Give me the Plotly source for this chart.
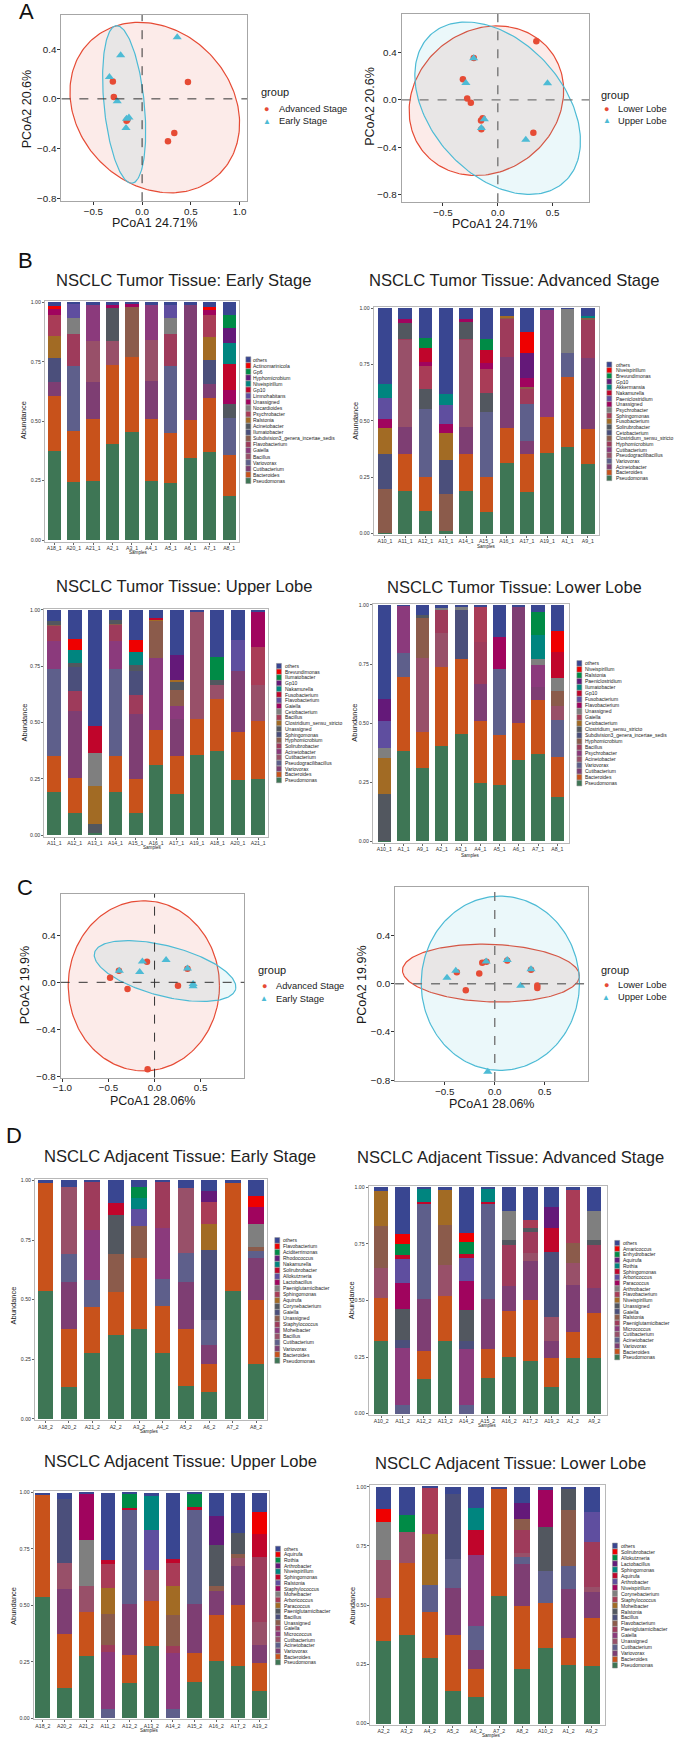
import numpy as np
import plotly.graph_objects as go

W, H = 675, 1744
FONT = "Arial"

palette = ["#3e7655", "#c8521b", "#7e3e73", "#5e5f8b", "#985069", "#8b3a7c", "#9e3b5b",
           "#8b5b4b", "#4b4f7b", "#52575f", "#a26b24", "#a93c57", "#7f7f7f", "#a0045e",
           "#5f4e9f", "#c0052b", "#00857f", "#641979", "#008b46", "#ef0000", "#394691"]
RED, BLUE = "#E64B35", "#4DBBD5"

# ---------------- PCoA data ----------------
tumor_stage_adv_x = [-0.30, -0.29, 0.47, 0.33, 0.265, -0.16, -0.15]
tumor_stage_adv_y = [0.14, 0.015, 0.135, -0.275, -0.34, -0.175, -0.165]
tumor_stage_early_x = [0.36, -0.22, -0.335, -0.255, -0.16, -0.135, -0.165]
tumor_stage_early_y = [0.495, 0.35, 0.175, -0.02, -0.16, -0.15, -0.235]

tumor_lobe_lower_x = [0.351, -0.219, -0.318, -0.279, -0.246, -0.153, -0.138, -0.15, 0.324]
tumor_lobe_lower_y = [0.494, 0.352, 0.173, 0.011, -0.025, -0.173, -0.154, -0.246, -0.277]
tumor_lobe_upper_x = [-0.22, -0.291, -0.123, -0.15, 0.453, 0.255]
tumor_lobe_upper_y = [0.35, 0.142, -0.162, -0.237, 0.14, -0.335]

adj_stage_adv_x = [-0.482, -0.293, -0.082, 0.254, -0.075, -0.386, 0.357]
adj_stage_adv_y = [0.039, -0.056, 0.175, -0.028, -0.738, 0.099, 0.115]
adj_stage_early_x = [-0.382, -0.161, -0.132, 0.125, 0.357, 0.418, 0.418]
adj_stage_early_y = [0.099, 0.087, 0.177, 0.19, 0.118, -0.014, -0.034]

adj_lobe_lower_x = [-0.38, -0.29, -0.155, -0.125, -0.083, 0.125, 0.363, 0.426, 0.426]
adj_lobe_lower_y = [0.096, -0.055, 0.085, 0.174, 0.182, 0.193, 0.116, -0.014, -0.036]
adj_lobe_upper_x = [-0.478, -0.39, -0.086, 0.125, 0.363, 0.26, -0.07]
adj_lobe_upper_y = [0.05, 0.107, 0.185, 0.196, 0.12, -0.017, -0.73]

# ellipse parameters: (cx, cy, a, b, angle_deg)
ell_A1_red = (0.13, -0.07, 0.891, 0.658, -18.8)
ell_A1_blue = (-0.184, -0.045, 0.639, 0.206, -82.4)
ell_A2_red = (-0.104, -0.007, 0.724, 0.607, 25.2)
ell_A2_blue = (-0.0015, -0.07, 0.871, 0.581, -42.1)
ell_C1_red = (-0.116, -0.03, 0.82, 0.722, 0.0)
ell_C1_blue = (0.114, 0.096, 0.781, 0.216, -10.9)
ell_C2_red = (-0.038, 0.088, 0.886, 0.239, -1.6)
ell_C2_blue = (0.056, 0.004, 0.792, 0.723, 0.0)

# ---------------- Abundance data ----------------
tumor_profiles = {
    "A1_1": {"Pseudomonas": .383, "Bacteroides": .312, "Variovorax": .104, "Psychrobacter": .199},
    "A2_1": {"Pseudomonas": .403, "Bacteroides": .335, "Acinetobacter": .142, "Bacillus": .097, "Unassigned": .016},
    "A3_1": {"Pseudomonas": .456, "Bacteroides": .315, "Subdivision3_genera_incertae_sedis": .212, "Unassigned": .008},
    "A4_1": {"Pseudomonas": .247, "Bacteroides": .263, "Cutibacterium": .157, "Bacillus": .175, "Gaiella": .148},
    "A5_1": {"Pseudomonas": .239, "Bacteroides": .212, "Variovorax": .279, "Flavobacterium": .135, "Nocardioides": .067, "Limnohabitans": .061},
    "A6_1": {"Pseudomonas": .345, "Bacteroides": .158, "Cutibacterium": .487},
    "A7_1": {"Pseudomonas": .37, "Bacteroides": .229, "Cutibacterium": .056, "Ilumatobacter": .104, "Ralstonia": .094, "Psychrobacter": .092, "Unassigned": .024, "Actinomarinicola": .010},
    "A8_1": {"Pseudomonas": .187, "Bacteroides": .169, "Variovorax": .156, "Acinetobacter": .062, "Hyphomicrobium": .063, "Unassigned": .055, "Gp10": .11, "Niveispirillum": .09, "Gp6": .053},
    "A9_1": {"Pseudomonas": .309, "Bacteroides": .154, "Acinetobacter": .314, "Hyphomicrobium": .17, "Clostridium_sensu_stricto": .012, "Akkermansia": .004},
    "A10_1": {"Pseudomonas": .004, "Clostridium_sensu_stricto": .195, "Cetobacterium": .155, "Fusobacterium": .116, "Unassigned": .04, "Paeniclostridium": .093, "Akkermansia": .059},
    "A11_1": {"Pseudomonas": .19, "Bacteroides": .161, "Acinetobacter": .12, "Pseudogracilibacillus": .389, "Solirubrobacter": .072, "Unassigned": .017, "Hyphomicrobium": .003},
    "A12_1": {"Pseudomonas": .10, "Bacteroides": .152, "Variovorax": .30, "Solirubrobacter": .09, "Sphingomonas": .103, "Unassigned": .018, "Nakamurella": .058, "Brevundimonas": .048},
    "A13_1": {"Pseudomonas": .009, "Clostridium_sensu_stricto": .168, "Cetobacterium": .15, "Fusobacterium": .118, "Unassigned": .04, "Paeniclostridium": .084, "Akkermansia": .052},
    "A14_1": {"Pseudomonas": .19, "Bacteroides": .161, "Acinetobacter": .122, "Pseudogracilibacillus": .388, "Solirubrobacter": .074, "Unassigned": .015, "Hyphomicrobium": .003},
    "A15_1": {"Pseudomonas": .097, "Bacteroides": .152, "Variovorax": .29, "Solirubrobacter": .085, "Sphingomonas": .106, "Unassigned": .025, "Nakamurella": .06, "Brevundimonas": .05},
    "A16_1": {"Pseudomonas": .314, "Bacteroides": .155, "Acinetobacter": .316, "Hyphomicrobium": .17, "Clostridium_sensu_stricto": .005, "Fusobacterium": .005},
    "A17_1": {"Pseudomonas": .184, "Bacteroides": .167, "Acinetobacter": .059, "Variovorax": .164, "Hyphomicrobium": .07, "Clostridium_sensu_stricto": .006, "Unassigned": .039, "Gp10": .11, "Niveispirillum": .094},
    "A18_1": {"Pseudomonas": .374, "Bacteroides": .232, "Cutibacterium": .059, "Ilumatobacter": .102, "Ralstonia": .092, "Psychrobacter": .089, "Unassigned": .025, "Actinomarinicola": .010},
    "A19_1": {"Pseudomonas": .355, "Bacteroides": .16, "Cutibacterium": .475},
    "A20_1": {"Pseudomonas": .246, "Bacteroides": .212, "Variovorax": .272, "Flavobacterium": .136, "Nocardioides": .067, "Limnohabitans": .063},
    "A21_1": {"Pseudomonas": .249, "Bacteroides": .26, "Cutibacterium": .157, "Bacillus": .171, "Gaiella": .153},
}

adjacent_profiles = {
    "A1_2": {"Pseudomonas": .246, "Bacteroides": .114, "Variovorax": .208, "Cutibacterium": .097, "Ralstonia": .09, "Flavobacterium": .235},
    "A2_2": {"Pseudomonas": .35, "Bacteroides": .181, "Unassigned": .159, "Corynebacterium": .163, "Solirubrobacter": .054},
    "A3_2": {"Pseudomonas": .375, "Bacteroides": .301, "Unassigned": .134, "Allokutzneria": .07, "Nakamurella": .047, "Aciditerrimonas": .045},
    "A4_2": {"Pseudomonas": .275, "Bacteroides": .198, "Cutibacterium": .112, "Moheibacter": .215, "Staphylococcus": .196},
    "A5_2": {"Pseudomonas": .137, "Bacteroides": .238, "Variovorax": .197, "Cutibacterium": .123, "Bacillus": .273},
    "A6_2": {"Pseudomonas": .113, "Bacteroides": .117, "Variovorax": .08, "Cutibacterium": .104, "Gaiella": .296, "Aquirufa": .108, "Sphingomonas": .093, "Rhodococcus": .043},
    "A7_2": {"Pseudomonas": .537, "Bacteroides": .453},
    "A8_2": {"Pseudomonas": .23, "Bacteroides": .268, "Variovorax": .177, "Cutibacterium": .029, "Unassigned": .018, "Paeniglutamicibacter": .097, "Lactobacillus": .07, "Flavobacterium": .044},
    "A9_2": {"Pseudomonas": .245, "Bacteroides": .2, "Variovorax": .11, "Paeniglutamicibacter": .189, "Unassigned": .023, "Arthrobacter": .127},
    "A10_2": {"Pseudomonas": .32, "Bacteroides": .19, "Cutibacterium": .135, "Ralstonia": .183, "Niveispirillum": .157},
    "A11_2": {"Acinetobacter": .04, "Micrococcus": .252, "Gaiella": .034, "Unassigned": .136, "Paracoccus": .115, "Arboricoccus": .107, "Sphingomonas": .018, "Enhydrobacter": .049, "Amaricoccus": .044},
    "A12_2": {"Pseudomonas": .155, "Bacteroides": .123, "Variovorax": .229, "Acinetobacter": .418, "Sphingomonas": .009, "Rothia": .063},
    "A13_2": {"Pseudomonas": .32, "Bacteroides": .198, "Cutibacterium": .14, "Ralstonia": .177, "Niveispirillum": .152},
    "A14_2": {"Acinetobacter": .04, "Micrococcus": .247, "Gaiella": .033, "Unassigned": .137, "Paracoccus": .128, "Arboricoccus": .102, "Sphingomonas": .018, "Enhydrobacter": .053, "Amaricoccus": .039},
    "A15_2": {"Pseudomonas": .158, "Bacteroides": .129, "Variovorax": .22, "Acinetobacter": .418, "Sphingomonas": .012, "Rothia": .058},
    "A16_2": {"Pseudomonas": .252, "Bacteroides": .203, "Variovorax": .11, "Paeniglutamicibacter": .18, "Unassigned": .023, "Arthrobacter": .127},
    "A17_2": {"Pseudomonas": .233, "Bacteroides": .267, "Variovorax": .173, "Cutibacterium": .036, "Unassigned": .018, "Paeniglutamicibacter": .093, "Flavobacterium": .035},
    "A18_2": {"Pseudomonas": .537, "Bacteroides": .453},
    "A19_2": {"Pseudomonas": .118, "Bacteroides": .127, "Variovorax": .077, "Cutibacterium": .106, "Gaiella": .287, "Sphingomonas": .103, "Aquirufa": .095},
    "A20_2": {"Pseudomonas": .135, "Bacteroides": .24, "Variovorax": .197, "Cutibacterium": .118, "Bacillus": .282},
    "A21_2": {"Pseudomonas": .275, "Bacteroides": .195, "Cutibacterium": .114, "Moheibacter": .207, "Staphylococcus": .205},
}

B1_samples = ["A18_1", "A20_1", "A21_1", "A2_1", "A3_1", "A4_1", "A5_1", "A6_1", "A7_1", "A8_1"]
B2_samples = ["A10_1", "A11_1", "A12_1", "A13_1", "A14_1", "A15_1", "A16_1", "A17_1", "A19_1", "A1_1", "A9_1"]
B3_samples = ["A11_1", "A12_1", "A13_1", "A14_1", "A15_1", "A16_1", "A17_1", "A19_1", "A18_1", "A20_1", "A21_1"]
B4_samples = ["A10_1", "A1_1", "A9_1", "A2_1", "A3_1", "A4_1", "A5_1", "A6_1", "A7_1", "A8_1"]
D1_samples = ["A18_2", "A20_2", "A21_2", "A2_2", "A3_2", "A4_2", "A5_2", "A6_2", "A7_2", "A8_2"]
D2_samples = ["A10_2", "A11_2", "A12_2", "A13_2", "A14_2", "A15_2", "A16_2", "A17_2", "A19_2", "A1_2", "A9_2"]
D3_samples = ["A18_2", "A20_2", "A21_2", "A11_2", "A12_2", "A13_2", "A14_2", "A15_2", "A16_2", "A17_2", "A19_2"]
D4_samples = ["A2_2", "A3_2", "A4_2", "A5_2", "A6_2", "A7_2", "A8_2", "A10_2", "A1_2", "A9_2"]

B1_taxa = ["Pseudomonas", "Bacteroides", "Cutibacterium", "Variovorax", "Bacillus", "Gaiella", "Flavobacterium",
           "Subdivision3_genera_incertae_sedis", "Ilumatobacter", "Acinetobacter", "Ralstonia", "Psychrobacter",
           "Nocardioides", "Unassigned", "Limnohabitans", "Gp10", "Niveispirillum", "Hyphomicrobium", "Gp6",
           "Actinomarinicola"]
B2_taxa = ["Pseudomonas", "Bacteroides", "Acinetobacter", "Variovorax", "Pseudogracilibacillus", "Cutibacterium",
           "Hyphomicrobium", "Clostridium_sensu_stricto", "Cetobacterium", "Solirubrobacter", "Fusobacterium",
           "Sphingomonas", "Psychrobacter", "Unassigned", "Paeniclostridium", "Nakamurella", "Akkermansia", "Gp10",
           "Brevundimonas", "Niveispirillum"]
B3_taxa = ["Pseudomonas", "Bacteroides", "Variovorax", "Pseudogracilibacillus", "Cutibacterium", "Acinetobacter",
           "Solirubrobacter", "Hyphomicrobium", "Sphingomonas", "Unassigned", "Clostridium_sensu_stricto", "Bacillus",
           "Cetobacterium", "Gaiella", "Flavobacterium", "Fusobacterium", "Nakamurella", "Gp10", "Ilumatobacter",
           "Brevundimonas"]
B4_taxa = ["Pseudomonas", "Bacteroides", "Cutibacterium", "Variovorax", "Acinetobacter", "Psychrobacter", "Bacillus",
           "Hyphomicrobium", "Subdivision3_genera_incertae_sedis", "Clostridium_sensu_stricto", "Cetobacterium",
           "Gaiella", "Unassigned", "Flavobacterium", "Fusobacterium", "Gp10", "Ilumatobacter", "Paeniclostridium",
           "Ralstonia", "Niveispirillum"]
D1_taxa = ["Pseudomonas", "Bacteroides", "Variovorax", "Cutibacterium", "Bacillus", "Moheibacter", "Staphylococcus",
           "Unassigned", "Gaiella", "Corynebacterium", "Aquirufa", "Sphingomonas", "Paeniglutamicibacter",
           "Lactobacillus", "Allokutzneria", "Solirubrobacter", "Nakamurella", "Rhodococcus", "Aciditerrimonas",
           "Flavobacterium"]
D2_taxa = ["Pseudomonas", "Bacteroides", "Variovorax", "Acinetobacter", "Cutibacterium", "Micrococcus",
           "Paeniglutamicibacter", "Ralstonia", "Gaiella", "Unassigned", "Niveispirillum", "Flavobacterium",
           "Arthrobacter", "Paracoccus", "Arboricoccus", "Sphingomonas", "Rothia", "Aquirufa", "Enhydrobacter",
           "Amaricoccus"]
D3_taxa = ["Pseudomonas", "Bacteroides", "Variovorax", "Acinetobacter", "Cutibacterium", "Micrococcus", "Gaiella",
           "Unassigned", "Bacillus", "Paeniglutamicibacter", "Paracoccus", "Arboricoccus", "Moheibacter",
           "Staphylococcus", "Ralstonia", "Sphingomonas", "Niveispirillum", "Arthrobacter", "Rothia", "Aquirufa"]
D4_taxa = ["Pseudomonas", "Bacteroides", "Variovorax", "Cutibacterium", "Unassigned", "Gaiella",
           "Paeniglutamicibacter", "Flavobacterium", "Bacillus", "Ralstonia", "Moheibacter", "Staphylococcus",
           "Corynebacterium", "Niveispirillum", "Arthrobacter", "Aquirufa", "Sphingomonas", "Lactobacillus",
           "Allokutzneria", "Solirubrobacter"]

# ---------------- helpers ----------------
fig = go.Figure()
shapes, annotations = [], []
axis_n = [0]


def px(x):
    return x / W


def py(y):
    return 1 - y / H


def new_axes(box, xr, yr, xcfg, ycfg):
    axis_n[0] += 1
    i = axis_n[0]
    xa = "xaxis" if i == 1 else f"xaxis{i}"
    ya = "yaxis" if i == 1 else f"yaxis{i}"
    xs = "x" if i == 1 else f"x{i}"
    ys = "y" if i == 1 else f"y{i}"
    x0, y0, x1, y1 = box
    xd = dict(domain=[px(x0), px(x1)], range=xr, anchor=ys, showgrid=False, zeroline=False,
              showline=True, mirror=True, fixedrange=True)
    yd = dict(domain=[py(y1), py(y0)], range=yr, anchor=xs, showgrid=False, zeroline=False,
              showline=True, mirror=True, fixedrange=True)
    xd.update(xcfg)
    yd.update(ycfg)
    fig.layout[xa] = xd
    fig.layout[ya] = yd
    return xs, ys


def text(t, x, y, size, color="#1a1a1a", xanchor="center", yanchor="middle", angle=0, family=FONT):
    annotations.append(dict(text=t, x=px(x), y=py(y), xref="paper", yref="paper", showarrow=False,
                            xanchor=xanchor, yanchor=yanchor, textangle=angle, borderpad=0,
                            font=dict(size=size, color=color, family=family)))


def ellipse(params, n=200):
    cx, cy, a, b, ang = params
    t = np.linspace(0, 2 * np.pi, n)
    th = np.deg2rad(ang)
    x = cx + a * np.cos(th) * np.cos(t) - b * np.sin(th) * np.sin(t)
    y = cy + a * np.sin(th) * np.cos(t) + b * np.cos(th) * np.sin(t)
    return x, y


def pcoa_panel(box, xr, yr, xticks, yticks, ell_red, ell_blue, rx, ry, bx, by,
               xtitle, ytitle, xt_pos, yt_pos, leg_pos, labels, dash_col, dash_w):
    tickstyle = dict(ticks="outside", ticklen=3, tickcolor="#333", tickwidth=1,
                     linecolor="#a6a6a6", linewidth=1,
                     tickfont=dict(size=9.8, color="#222", family=FONT))
    xcfg = dict(tickvals=xticks, ticktext=[f"{v:.1f}".replace("-", "\u2212") for v in xticks],
                ticklabelstandoff=-2, **tickstyle)
    ycfg = dict(tickvals=yticks, ticktext=[f"{v:.1f}".replace("-", "\u2212") for v in yticks],
                ticklabelstandoff=-1, **tickstyle)
    xs, ys = new_axes(box, xr, yr, xcfg, ycfg)
    for par, col, rgba in [(ell_red, RED, "rgba(230,75,53,0.11)"), (ell_blue, BLUE, "rgba(77,187,213,0.11)")]:
        ex, ey = ellipse(par)
        fig.add_trace(go.Scatter(x=ex, y=ey, mode="lines", fill="toself", fillcolor=rgba,
                                 line=dict(color=col, width=1.2), xaxis=xs, yaxis=ys,
                                 showlegend=False, hoverinfo="skip"))
    # dashed zero lines
    shapes.append(dict(type="line", xref=xs, yref=ys, x0=0, x1=0, y0=yr[0], y1=yr[1],
                       line=dict(color=dash_col, width=dash_w, dash="dash")))
    shapes.append(dict(type="line", xref=xs, yref=ys, x0=xr[0], x1=xr[1], y0=0, y1=0,
                       line=dict(color=dash_col, width=dash_w, dash="dash")))
    fig.add_trace(go.Scatter(x=rx, y=ry, mode="markers", marker=dict(color=RED, size=6.5, symbol="circle"),
                             xaxis=xs, yaxis=ys, showlegend=False))
    fig.add_trace(go.Scatter(x=bx, y=by, mode="markers",
                             marker=dict(color=BLUE, size=8, symbol="triangle-up"),
                             xaxis=xs, yaxis=ys, showlegend=False))
    text(xtitle, xt_pos[0], xt_pos[1], 12.5)
    text(ytitle, yt_pos[0], yt_pos[1], 12.5, angle=-90)
    gx, gy, mx, tx, y1, y2 = leg_pos
    text("group", gx, gy, 11, xanchor="left")
    text("\u25CF", mx, y1, 9, color=RED)
    text("\u25B2", mx, y2, 8, color=BLUE)
    text(labels[0], tx, y1, 9.3, xanchor="left")
    text(labels[1], tx, y2, 9.3, xanchor="left")


def bar_panel(box, samples, taxa, profiles, pad, legend, title, title_pos, samp_pos, abund_pos, title_html=None):
    n = len(samples)
    tick = dict(ticks="outside", ticklen=2, tickcolor="#666", tickwidth=0.6, linecolor="#b8b8b8",
                linewidth=1, tickfont=dict(size=5.2, color="#333", family=FONT))
    xcfg = dict(tickvals=list(range(n)), ticktext=samples, tickangle=0, ticklabelstandoff=-1, **tick)
    ycfg = dict(tickvals=[0, 0.25, 0.5, 0.75, 1.0], ticktext=["0.00", "0.25", "0.50", "0.75", "1.00"], **tick)
    xs, ys = new_axes(box, [-pad, n - 1 + pad], [-0.006, 1.006], xcfg, ycfg)
    xpos = list(range(n))
    for k, tx in enumerate(taxa):
        vals = [profiles[s].get(tx, 0.0) for s in samples]
        fig.add_trace(go.Bar(x=xpos, y=vals, width=0.68, marker=dict(color=palette[k], line=dict(width=0)),
                             xaxis=xs, yaxis=ys, showlegend=False, name=tx))
    others = [max(0.0, 1.0 - sum(profiles[s].get(tx, 0.0) for tx in taxa)) for s in samples]
    fig.add_trace(go.Bar(x=xpos, y=others, width=0.68, marker=dict(color=palette[20], line=dict(width=0)),
                         xaxis=xs, yaxis=ys, showlegend=False, name="others"))
    # legend
    sw_x, txt_x, y_top, y_bot = legend
    names = ["others"] + taxa[::-1]
    cols = [palette[20]] + [palette[k] for k in range(len(taxa) - 1, -1, -1)]
    step = (y_bot - y_top) / (len(names) - 1)
    for j, (nm, c) in enumerate(zip(names, cols)):
        yc = y_top + j * step
        shapes.append(dict(type="rect", xref="paper", yref="paper", x0=px(sw_x), x1=px(sw_x + 5),
                           y0=py(yc + step / 2 - 0.25), y1=py(yc - step / 2 + 0.25), fillcolor=c,
                           line=dict(color="#8c8c8c", width=0.5)))
        text(nm, txt_x, yc, 5.0, color="#222", xanchor="left")
    text(title_html if title_html else title, title_pos[0], title_pos[1], 16.6, color="#222")
    text("Samples", samp_pos[0], samp_pos[1], 4.6, color="#222")
    text("Abundance", abund_pos[0], abund_pos[1], 7.5, color="#222", angle=-90)


# ---------------- panels ----------------
pcoa_panel((54, 13, 242, 200), [-0.828, 1.077], [-0.823, 0.675], [-0.5, 0, 0.5, 1.0], [-0.8, -0.4, 0, 0.4],
           ell_A1_red, ell_A1_blue, tumor_stage_adv_x, tumor_stage_adv_y, tumor_stage_early_x, tumor_stage_early_y,
           "PCoA1 24.71%", "PCoA2 20.6%", (148, 222), (19, 107), (255, 90, 262, 273, 107, 119.5),
           ("Advanced Stage", "Early Stage"), "#333", 1.0)
pcoa_panel((398.3, 11.7, 588.3, 201), [-0.877, 0.834], [-0.861, 0.726], [-0.5, 0, 0.5], [-0.8, -0.4, 0, 0.4],
           ell_A2_red, ell_A2_blue, tumor_lobe_lower_x, tumor_lobe_lower_y, tumor_lobe_upper_x, tumor_lobe_upper_y,
           "PCoA1 24.71%", "PCoA2 20.6%", (492.8, 223), (365.5, 105), (599.3, 93.3, 606, 616, 107.3, 119.3),
           ("Lower Lobe", "Upper Lobe"), "#777", 1.4)
pcoa_panel((53.3, 895.3, 239.3, 1080), [-1.018, 0.975], [-0.809, 0.752], [-1.0, -0.5, 0, 0.5], [-0.8, -0.4, 0, 0.4],
           ell_C1_red, ell_C1_blue, adj_stage_adv_x, adj_stage_adv_y, adj_stage_early_x, adj_stage_early_y,
           "PCoA1 28.06%", "PCoA2 19.9%", (146, 1103), (17.5, 987), (252.3, 971.7, 259.3, 270, 987.7, 1000.7),
           ("Advanced Stage", "Early Stage"), "#333", 1.0)
pcoa_panel((391.7, 888.3, 586.7, 1083.3), [-0.998, 0.931], [-0.807, 0.805], [-1.0, -0.5, 0, 0.5], [-0.8, -0.4, 0, 0.4],
           ell_C2_red, ell_C2_blue, adj_lobe_lower_x, adj_lobe_lower_y, adj_lobe_upper_x, adj_lobe_upper_y,
           "PCoA1 28.06%", "PCoA2 19.9%", (489, 1106), (357.5, 986.7), (599.3, 971.7, 605.3, 616, 986.7, 999.3),
           ("Lower Lobe", "Upper Lobe"), "#777", 1.4)

bar_panel((37.3, 300, 233.3, 541.7), B1_samples, B1_taxa, tumor_profiles, 0.48, (240.7, 247.3, 359, 480.7),
          "NSCLC Tumor Tissue: Early Stage", (177.7, 280), (131.7, 553), (15, 420))
bar_panel((370, 306, 598.3, 535), B2_samples, B2_taxa, tumor_profiles, 0.56, (606, 614, 364, 478),
          "NSCLC Tumor Tissue: Advanced Stage", (512.7, 280), (484, 546.5), (351.7, 421))
bar_panel((36.7, 609, 263.3, 838), B3_samples, B3_taxa, tumor_profiles, 0.49, (271.7, 279, 666.7, 781.3),
          "NSCLC Tumor Tissue: Upper Lobe", (178, 586.7), (146.7, 849), (16.7, 724))
bar_panel((369.3, 604, 567.3, 844.3), B4_samples, B4_taxa, tumor_profiles, 0.59, (575.7, 583.3, 664, 784.3),
          "NSCLC Tumor Tissue: Lower Lobe", (512.7, 588.3), (468.3, 856.5), (350.7, 724),
          title_html='NSCLC Tumor Tissue<span style="font-family:Roboto">: Lower Lobe</span>')
bar_panel((27.3, 1181.7, 261.7, 1424), D1_samples, D1_taxa, adjacent_profiles, 0.45, (270, 277.7, 1243.3, 1364),
          "NSCLC Adjacent Tissue: Early Stage", (173.7, 1159.3), (143.3, 1435.5), (5.5, 1308.3))
bar_panel((365, 1188.7, 606, 1418.7), D2_samples, D2_taxa, adjacent_profiles, 0.59, (614, 621.7, 1246, 1360.7),
          "NSCLC Adjacent Tissue: Advanced Stage", (508.7, 1160), (485, 1429), (347.3, 1303.3))
bar_panel((26, 1495.3, 264, 1724.3), D3_samples, D3_taxa, adjacent_profiles, 0.42, (270.7, 278.3, 1553, 1667),
          "NSCLC Adjacent Tissue: Upper Lobe", (174.2, 1465), (142.7, 1735), (5.5, 1610))
bar_panel((366.7, 1489.3, 604, 1730), D4_samples, D4_taxa, adjacent_profiles, 0.57, (611.7, 619.3, 1550, 1670),
          "NSCLC Adjacent Tissue: Lower Lobe", (508.8, 1467.7), (489.3, 1740.5), (348.3, 1610),
          title_html='NSCLC Adjacent Tissue<span style="font-family:Roboto">: Lower Lobe</span>')

# panel letters
text("A", 19, 10, 22, color="#111")
text("B", 18, 260, 22, color="#111")
text("C", 17, 889, 22, color="#111")
text("D", 6, 1138, 22, color="#111")

fig.update_layout(width=W, height=H, margin=dict(l=0, r=0, t=0, b=0), barmode="stack",
                  paper_bgcolor="white", plot_bgcolor="white", showlegend=False,
                  shapes=shapes, annotations=annotations, font=dict(family=FONT))
fig.write_html("out.html")
